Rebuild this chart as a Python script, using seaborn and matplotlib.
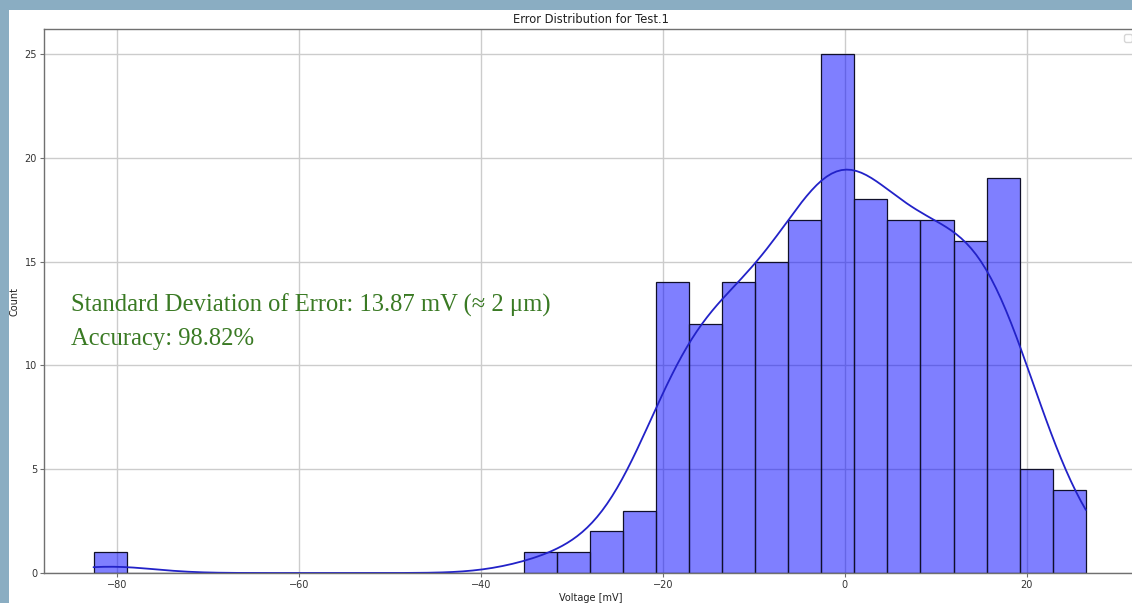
import numpy as np
import pandas as pd
import matplotlib
matplotlib.use("Agg")
import matplotlib.pyplot as plt
import seaborn as sns
from matplotlib.patches import Rectangle

# ---- data (30 equal bins) ----
data_min = -82.56
data_max = 26.48
n_bins = 30
bin_counts = [1, 0, 0, 0, 0, 0, 0, 0, 0, 0, 0, 0, 0,
              1, 1, 2, 3, 14, 12, 14, 15, 17, 25, 18, 17, 17, 16, 19, 5, 4]
title = "Error Distribution for Test.1"
x_label = "Voltage [mV]"
y_label = "Count"
note_line1 = "Standard Deviation of Error: 13.87 mV (\u2248 2 \u03bcm)"
note_line2 = "Accuracy: 98.82%"

edges = np.linspace(data_min, data_max, n_bins + 1)
centers = (edges[:-1] + edges[1:]) / 2
errors = np.repeat(centers, bin_counts)
df = pd.DataFrame({"error": errors})

sns.set_style("whitegrid")
plt.rcParams["font.family"] = ["DejaVu Sans"]

W, H = 1132, 603
fig = plt.figure(figsize=(W / 100, H / 100), dpi=100)
fig.patch.set_facecolor("#8aadc2")
fig.patches.append(Rectangle((9 / W, 0), 1 - 9 / W, 1 - 10 / H,
                             transform=fig.transFigure, facecolor="white",
                             edgecolor="none", zorder=-10))
ax = fig.add_axes([44 / W, 1 - 573 / H, (1137 - 44) / W, (573 - 29) / H])
ax.set_facecolor("white")

half_bin = (edges[1] - edges[0]) / 2
bw = len(errors) ** (-0.2) * np.std(errors, ddof=1)
sns.histplot(data=df, x="error", bins=edges, kde=True, color="blue",
             alpha=0.5, edgecolor="#10102a", linewidth=0.9,
             line_kws={"linewidth": 1.3},
             kde_kws={"cut": half_bin / bw}, ax=ax)
for ln in ax.lines:
    ln.set_color("#2222c8")

ax.set_xlim(-88.0, 32.1)
ax.set_ylim(0, 26.2)
ax.set_xticks([-80, -60, -40, -20, 0, 20])
ax.set_yticks([0, 5, 10, 15, 20, 25])
ax.grid(True, color="#cccccc", linewidth=1.0)
ax.set_axisbelow(True)
for s in ax.spines.values():
    s.set_color("#707070")
    s.set_linewidth(1.0)
ax.tick_params(axis="both", labelsize=7, length=3, width=0.8, color="#707070",
               labelcolor="#333333", pad=2, bottom=True, left=True)
ax.set_title(title, fontsize=8.3, color="#222222", pad=4)
ax.set_xlabel(x_label, fontsize=7, color="#222222", labelpad=2)
ax.set_ylabel(y_label, fontsize=7, color="#222222", labelpad=4)
ax.legend(handles=[], loc="upper right", fontsize=7)

serif = ["Liberation Serif", "DejaVu Serif"]
fig.text(71 / W, 1 - 312 / H, note_line1, color="#3a7a24", fontsize=17.7,
         family=serif, va="baseline", ha="left")
fig.text(71 / W, 1 - 344.5 / H, note_line2, color="#3a7a24", fontsize=17.7,
         family=serif, va="baseline", ha="left")

fig.savefig("out.png", dpi=100, facecolor=fig.get_facecolor())
